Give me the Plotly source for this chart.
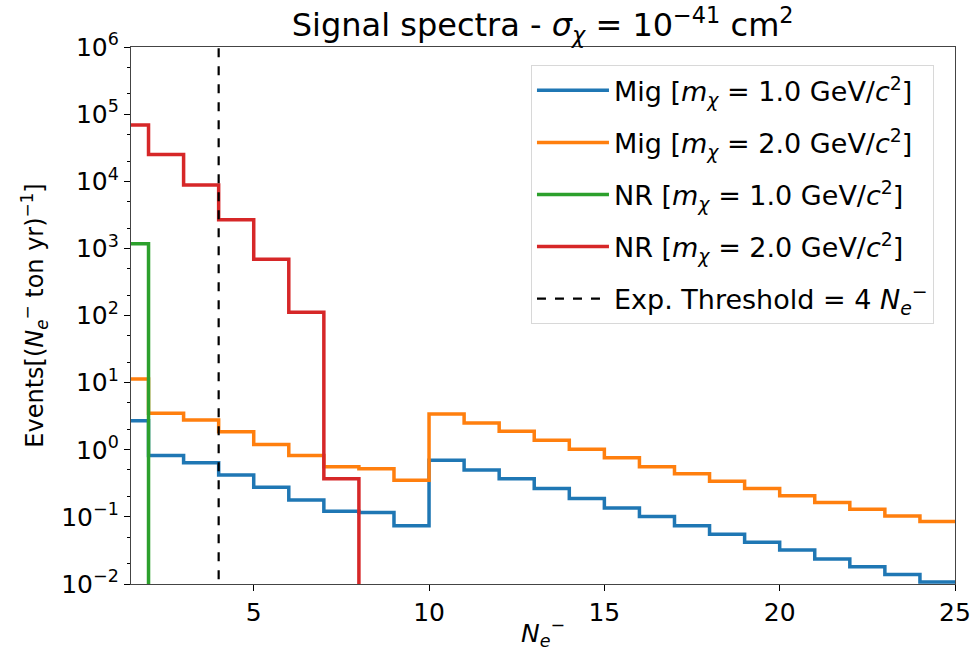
import plotly.graph_objects as go

# Bin edges (N_e-) and per-bin event rates
bin_edges = list(range(1, 26))  # 1..25 ; 24 bins
mig_1gev = [2.7, 0.82, 0.64, 0.42, 0.276, 0.179, 0.121, 0.116, 0.074,
            0.70, 0.50, 0.37, 0.265, 0.188, 0.136, 0.101, 0.074, 0.055,
            0.042, 0.032, 0.0236, 0.018, 0.0139, 0.0107]
mig_2gev = [11.3, 3.5, 2.78, 1.86, 1.2, 0.82, 0.56, 0.52, 0.35,
            3.4, 2.5, 1.88, 1.39, 1.02, 0.76, 0.56, 0.44, 0.34,
            0.265, 0.206, 0.164, 0.13, 0.103, 0.085]
nr_1gev = [1170] + [0] * 23
nr_2gev = [6.9e4, 2.5e4, 8.8e3, 2.66e3, 690, 112, 0.37] + [0] * 17
threshold = 4

series_names = [
    "Mig [<i>m</i><sub><i>χ</i></sub> = 1.0 GeV/<i>c</i><sup>2</sup>]",
    "Mig [<i>m</i><sub><i>χ</i></sub> = 2.0 GeV/<i>c</i><sup>2</sup>]",
    "NR [<i>m</i><sub><i>χ</i></sub> = 1.0 GeV/<i>c</i><sup>2</sup>]",
    "NR [<i>m</i><sub><i>χ</i></sub> = 2.0 GeV/<i>c</i><sup>2</sup>]",
]
series_values = [mig_1gev, mig_2gev, nr_1gev, nr_2gev]
colors = ["#1f77b4", "#ff7f0e", "#2ca02c", "#d62728"]

y_tick_vals = [1e-2, 1e-1, 1e0, 1e1, 1e2, 1e3, 1e4, 1e5, 1e6]
y_tick_text = ["10<sup>−2</sup>", "10<sup>−1</sup>", "10<sup>0</sup>", "10<sup>1</sup>",
               "10<sup>2</sup>", "10<sup>3</sup>", "10<sup>4</sup>", "10<sup>5</sup>",
               "10<sup>6</sup>"]
x_tick_vals = [5, 10, 15, 20, 25]

FLOOR = 1e-6  # zero-valued bins drawn below the visible axis

fig = go.Figure()
for i, (name, vals, col) in enumerate(zip(series_names, series_values, colors)):
    ys = [v if v > 0 else FLOOR for v in vals]
    ys = ys + [ys[-1]]
    fig.add_trace(go.Scatter(
        x=bin_edges, y=ys, mode="lines", name=name,
        line=dict(color=col, width=3.5, shape="hv"),
        legendgroup=f"g{i}",
    ))

fig.add_trace(go.Scatter(
    x=[threshold, threshold], y=[1e-3, 1e7], mode="lines",
    name="Exp. Threshold = 4 <i>N</i><sub><i>e</i></sub><sup>−</sup>",
    line=dict(color="black", width=2.2, dash="dash"),
    legendgroup="g4",
))

font_family = "DejaVu Sans"
fig.update_layout(
    width=976, height=651,
    margin=dict(l=131, r=21, t=47, b=67),
    paper_bgcolor="white", plot_bgcolor="white",
    font=dict(family=font_family, size=25, color="black"),
    title=dict(
        text="Signal spectra - <i>σ</i><sub><i>χ</i></sub> = 10<sup>−41</sup> cm<sup>2</sup>",
        x=0.556, xanchor="center", y=0.979, yanchor="top",
        font=dict(size=32, family=font_family, color="black"),
    ),
    showlegend=True,
    legend=dict(
        x=0.4854, xanchor="left", y=0.966, yanchor="top",
        bgcolor="white", bordercolor="#d8d8d8", borderwidth=1,
        font=dict(size=27, family=font_family, color="black"),
        tracegroupgap=14,
        itemwidth=72,
    ),
)

fig.update_xaxes(
    range=[1.5, 25], automargin=False,
    tickmode="array", tickvals=x_tick_vals, ticktext=[str(v) for v in x_tick_vals],
    ticks="outside", ticklen=6, tickwidth=1.2, tickcolor="black",
    showline=True, linecolor="#444", linewidth=1.3, mirror=True,
    showgrid=False, zeroline=False,
    tickfont=dict(size=25),
    title=dict(text="<i>N</i><sub><i>e</i></sub><sup>−</sup>", font=dict(size=25), standoff=2),
)
fig.update_yaxes(
    type="log", range=[-2, 6], automargin=False,
    tickmode="array", tickvals=y_tick_vals, ticktext=y_tick_text,
    ticks="outside", ticklen=6, tickwidth=1.2, tickcolor="black",
    minor=dict(ticks="outside", ticklen=3, tickcolor="black", tickwidth=0.8, showgrid=False),
    showline=True, linecolor="#444", linewidth=1.3, mirror=True,
    showgrid=False, zeroline=False,
    tickfont=dict(size=25),
    title=dict(text="Events[(<i>N</i><sub><i>e</i></sub><sup>−</sup> ton yr)<sup>−1</sup>]",
               font=dict(size=24), standoff=10),
)

fig.write_html("out.html", config={"displayModeBar": False},
               post_script="document.body.style.margin='0px';")
